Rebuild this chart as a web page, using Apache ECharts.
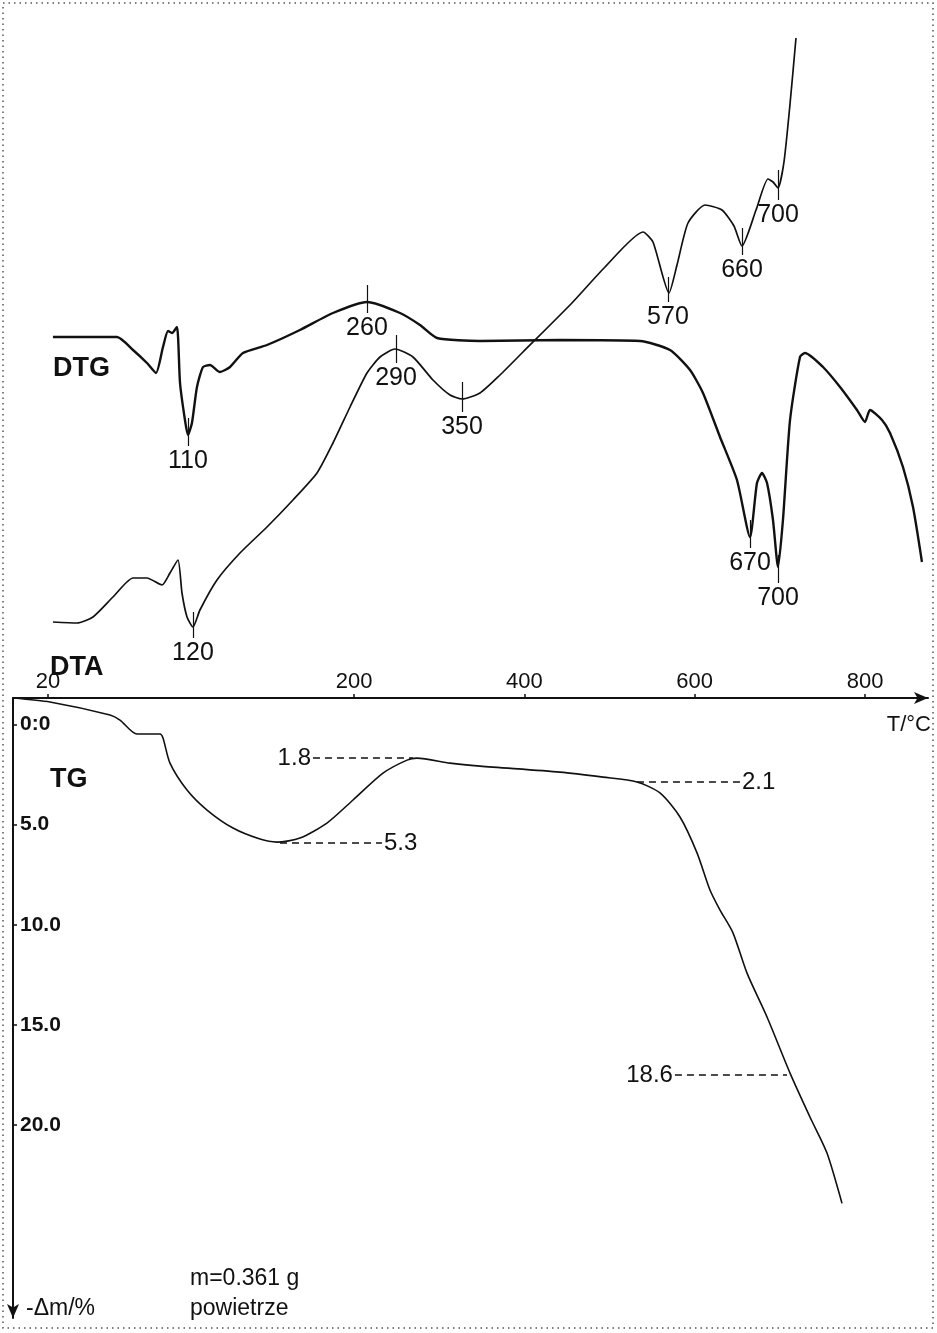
<!DOCTYPE html>
<html><head><meta charset="utf-8">
<script src="https://cdn.jsdelivr.net/npm/echarts@6/dist/echarts.min.js"></script>
<style>html,body{margin:0;padding:0;background:#fff}#c{width:937px;height:1333px}</style>
</head><body><div id="c"></div>
<script>
// ---- axis ticks ----
const xTickValues = [-159.3, 200, 400, 600, 800];
const xTickLabels = ['20', '200', '400', '600', '800'];
const yTickValues = [0, 5, 10, 15, 20];
const yTickLabels = ['0:0', '5.0', '10.0', '15.0', '20.0'];

// ---- DTG curve (temperature on axis scale, signal a.u.) ----
const dtgTemp = [-153.5, -78.3, -59.5, -43.1, -32.5, -24.3, -18.4, -13.7, -7.9, -4.3, 1.5, 5.0, 9.7, 15.6, 22.7, 30.9, 42.6, 54.4, 69.6, 97.8, 136.5, 175.3, 215.2, 254.0, 277.4, 297.4, 347.9, 441.8, 535.7, 571.0, 594.5, 609.7, 629.7, 649.6, 664.9, 673.1, 679.0, 684.9, 691.9, 697.8, 703.6, 711.9, 723.6, 729.5, 750.6, 770.6, 790.5, 799.9, 805.8, 819.9, 829.3, 844.5, 856.3, 866.8];
const dtgSignal = [36.0, 36.0, 34.7, 33.4, 32.4, 35.0, 36.6, 36.4, 37.0, 31.4, 27.7, 26.2, 27.4, 31.0, 33.0, 33.2, 32.5, 33.0, 34.4, 35.2, 36.7, 38.4, 39.5, 38.4, 37.2, 35.9, 35.6, 35.7, 35.6, 34.7, 32.7, 30.4, 26.0, 21.7, 16.0, 21.4, 22.4, 21.4, 17.7, 13.0, 17.7, 27.7, 34.0, 34.4, 33.0, 31.0, 28.7, 27.5, 28.7, 27.7, 26.4, 23.0, 19.0, 13.5];

// ---- DTA curve ----
const dtaTemp = [-153.5, -125.3, -106.5, -83.0, -59.5, -43.1, -25.5, -16.1, -6.7, -2.0, 3.9, 10.9, 19.1, 39.1, 66.1, 97.8, 128.3, 156.5, 175.3, 195.3, 215.2, 230.5, 248.1, 269.2, 292.7, 312.7, 326.8, 347.9, 371.4, 398.4, 454.7, 494.7, 539.3, 551.0, 569.8, 579.2, 592.1, 612.1, 632.0, 646.1, 655.5, 672.0, 686.0, 691.9, 697.8, 704.8, 711.9, 718.9];
const dtaSignal = [7.5, 7.4, 8.0, 10.0, 11.9, 11.9, 11.2, 12.4, 13.7, 10.4, 8.0, 7.0, 8.7, 11.7, 14.4, 17.0, 19.7, 22.4, 25.4, 29.0, 32.4, 34.0, 34.8, 34.0, 31.7, 30.2, 29.8, 30.4, 32.2, 34.5, 39.3, 43.0, 46.5, 45.5, 40.4, 43.2, 47.4, 49.2, 48.7, 47.1, 45.1, 48.7, 51.8, 51.5, 50.9, 53.5, 59.3, 65.9];

// ---- TG curve (-Δm / %) ----
const tgTemp = [-200.4, -157.0, -86.5, -74.8, -54.8, -27.8, -24.3, -16.1, 3.9, 27.4, 57.9, 89.6, 109.5, 136.5, 168.2, 198.8, 234.0, 262.2, 273.9, 312.7, 347.9, 441.8, 492.3, 532.2, 559.2, 582.7, 602.7, 617.9, 629.7, 644.9, 661.4, 684.9, 711.9, 735.3, 755.3, 772.9];
const tgLoss = [-1.32, -1.12, -0.47, -0.22, 0.48, 0.48, 0.68, 1.93, 3.27, 4.27, 5.17, 5.72, 5.87, 5.67, 4.92, 3.77, 2.43, 1.78, 1.68, 1.93, 2.08, 2.38, 2.63, 2.87, 3.42, 4.62, 6.41, 8.26, 9.26, 10.40, 12.41, 14.60, 17.40, 19.59, 21.39, 23.9];

// ---- peak markers ----
const dtgPeakLabels = ['110', '260', '670', '700'];
const dtgPeakTemps = [5.0, 215.2, 664.9, 697.8];
const dtgPeakTop = [27.9, 41.2, 17.7, 14.2];
const dtgPeakBottom = [25.1, 38.4, 14.9, 11.4];

const dtaPeakLabels = ['120', '290', '350', '570', '660', '700'];
const dtaPeakTemps = [10.9, 249.3, 326.8, 568.6, 655.5, 697.8];
const dtaPeakTop = [8.5, 36.2, 31.5, 42.0, 46.9, 52.7];
const dtaPeakBottom = [5.9, 33.4, 28.5, 39.5, 44.2, 49.7];

// ---- TG level notes ----
const tgNoteLabels = ['1.8', '5.3', '2.1', '18.6'];
const tgNoteLevel = [1.68, 5.92, 2.87, 17.50];
const tgNoteFrom = [151.8, 113.1, 532.2, 576.8];
const tgNoteTo = [269.2, 232.8, 653.2, 708.3];
const tgNoteSide = ['start', 'end', 'end', 'start'];

const X_MIN = -200.4, X_MAX = 873.9;
const Y_MIN = -1.32, Y_MAX = 29.62;
const INK = '#111';
const FONT = '"Liberation Sans", Arial, sans-serif';

function pairs(a, b) { return a.map((v, i) => [v, b[i]]); }
function lookup(vals, labels, v) {
  for (let i = 0; i < vals.length; i++) if (Math.abs(vals[i] - v) < 0.01) return labels[i];
  return '';
}
function peakLines(temps, tops, bots, labels) {
  return temps.map((t, i) => [{ coord: [t, tops[i]], name: labels[i] }, { coord: [t, bots[i]] }]);
}
const peakMarkLine = (data) => ({
  silent: true, animation: false, symbol: ['none', 'none'],
  lineStyle: { color: INK, width: 1.2, type: 'solid' },
  label: { show: true, position: 'end', formatter: '{b}', fontSize: 25, color: INK, fontFamily: FONT, distance: 3 },
  emphasis: { disabled: true },
  data: data
});

const tgNotes = tgNoteLabels.map((t, i) => [
  { coord: [tgNoteFrom[i], tgNoteLevel[i]], name: t, label: { position: tgNoteSide[i] } },
  { coord: [tgNoteTo[i], tgNoteLevel[i]] }
]);

const chart = echarts.init(document.getElementById('c'));
chart.setOption({
  animation: false,
  backgroundColor: '#fff',
  grid: [
    { left: 13, right: 9, top: 20, bottom: 636 },
    { left: 13, right: 9, top: 698, bottom: 15 }
  ],
  xAxis: [
    { gridIndex: 0, type: 'value', min: X_MIN, max: X_MAX, show: false },
    {
      gridIndex: 1, type: 'value', min: X_MIN, max: X_MAX, position: 'top',
      axisLine: { show: true, onZero: false, lineStyle: { color: INK, width: 2 }, symbol: ['none', 'arrow'], symbolSize: [9, 14] },
      axisTick: { show: true, customValues: xTickValues, length: 4, lineStyle: { color: INK, width: 1.5 } },
      axisLabel: { show: true, customValues: xTickValues, formatter: v => lookup(xTickValues, xTickLabels, v), fontSize: 22, color: INK, fontFamily: FONT, margin: 5 },
      splitLine: { show: false }
    }
  ],
  yAxis: [
    { gridIndex: 0, type: 'value', min: 0, max: 67.7, show: false },
    {
      gridIndex: 1, type: 'value', inverse: true, min: Y_MIN, max: Y_MAX, position: 'left',
      axisLine: { show: true, onZero: false, lineStyle: { color: INK, width: 2 }, symbol: ['arrow', 'none'], symbolSize: [9, 14] },
      axisTick: { show: true, inside: true, customValues: yTickValues, length: 4, lineStyle: { color: INK, width: 1.5 } },
      axisLabel: { show: true, inside: true, customValues: yTickValues, formatter: v => lookup(yTickValues, yTickLabels, v), fontSize: 21, fontWeight: 'bold', color: INK, fontFamily: FONT, margin: 7 },
      splitLine: { show: false }
    }
  ],
  series: [
    {
      name: 'DTG', type: 'line', xAxisIndex: 0, yAxisIndex: 0, data: pairs(dtgTemp, dtgSignal),
      symbol: 'none', smooth: 0.2, lineStyle: { color: INK, width: 2.4 },
      markLine: peakMarkLine(peakLines(dtgPeakTemps, dtgPeakTop, dtgPeakBottom, dtgPeakLabels))
    },
    {
      name: 'DTA', type: 'line', xAxisIndex: 0, yAxisIndex: 0, data: pairs(dtaTemp, dtaSignal),
      symbol: 'none', smooth: 0.2, lineStyle: { color: INK, width: 1.7 },
      markLine: peakMarkLine(peakLines(dtaPeakTemps, dtaPeakTop, dtaPeakBottom, dtaPeakLabels))
    },
    {
      name: 'TG', type: 'line', xAxisIndex: 1, yAxisIndex: 1, data: pairs(tgTemp, tgLoss),
      symbol: 'none', smooth: 0.25, lineStyle: { color: INK, width: 1.6 },
      markLine: {
        silent: true, animation: false, symbol: ['none', 'none'],
        lineStyle: { color: INK, width: 1.6, type: [7, 5] },
        label: { show: true, formatter: '{b}', fontSize: 24, color: INK, fontFamily: FONT, distance: 2 },
        emphasis: { disabled: true },
        data: tgNotes
      }
    }
  ],
  graphic: [
    { type: 'rect', silent: true, shape: { x: 3, y: 3, width: 930, height: 1325 }, style: { fill: 'none', stroke: '#555', lineWidth: 1.5, lineDash: [1.5, 4] } },
    { type: 'text', x: 53, y: 369, silent: true, style: { text: 'DTG', font: 'bold 27px "Liberation Sans", Arial', fill: INK, verticalAlign: 'middle' } },
    { type: 'text', x: 50, y: 668, silent: true, style: { text: 'DTA', font: 'bold 27px "Liberation Sans", Arial', fill: INK, verticalAlign: 'middle' } },
    { type: 'text', x: 50, y: 780, silent: true, style: { text: 'TG', font: 'bold 27px "Liberation Sans", Arial', fill: INK, verticalAlign: 'middle' } },
    { type: 'text', x: 931, y: 725, silent: true, style: { text: 'T/°C', font: '22px "Liberation Sans", Arial', fill: INK, align: 'right', verticalAlign: 'middle' } },
    { type: 'text', x: 26, y: 1309, silent: true, style: { text: '-Δm/%', font: '23px "Liberation Sans", Arial', fill: INK, verticalAlign: 'middle' } },
    { type: 'text', x: 190, y: 1279, silent: true, style: { text: 'm=0.361 g', font: '23px "Liberation Sans", Arial', fill: INK, verticalAlign: 'middle' } },
    { type: 'text', x: 190, y: 1309, silent: true, style: { text: 'powietrze', font: '23px "Liberation Sans", Arial', fill: INK, verticalAlign: 'middle' } }
  ]
});
</script>
</body></html>
